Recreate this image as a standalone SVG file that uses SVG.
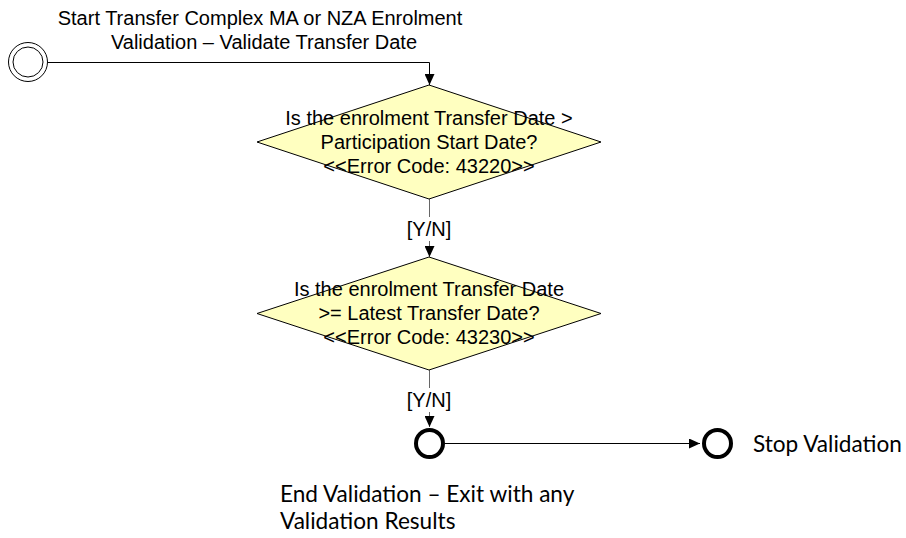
<svg xmlns="http://www.w3.org/2000/svg" width="906" height="538" viewBox="0 0 906 538">
<style>
.t{font-family:"Liberation Sans",Arial,sans-serif;font-size:20px;fill:#000;text-anchor:middle}
.c{font-family:Lato,"Open Sans",sans-serif;font-size:22.6px;fill:#000}
.dia{fill:#ffffc0;stroke:#000;stroke-width:1}
.ln{fill:none;stroke:#000;stroke-width:1}
.lg{fill:none;stroke:#666;stroke-width:1}
.end{fill:#fff;stroke:#000;stroke-width:4}
</style>
<defs>
<marker id="ah" markerUnits="userSpaceOnUse" markerWidth="11" markerHeight="10" refX="11" refY="5" orient="auto">
<path d="M0,0 L11,5 L0,10 z" fill="#000"/>
</marker>
</defs>
<rect width="906" height="538" fill="#fff"/>
<g id="connectors">
<path class="ln" d="M48,62.5 H429.5 V85" marker-end="url(#ah)"/>
<path class="lg" d="M429.5,199 V217"/>
<path class="lg" d="M429.5,241 V257" marker-end="url(#ah)"/>
<text class="t" x="429" y="236">[Y/N]</text>
<path class="lg" d="M429.5,370 V388"/>
<path class="lg" d="M429.5,412 V427" marker-end="url(#ah)"/>
<text class="t" x="429" y="407">[Y/N]</text>
<path class="ln" d="M445,443.5 H700" marker-end="url(#ah)"/>
</g>
<g id="start">
<circle cx="28" cy="62" r="19.5" fill="#fff" stroke="#000" stroke-width="1"/>
<circle cx="28" cy="62" r="15" fill="#fff" stroke="#000" stroke-width="1"/>
<text class="t" x="260" y="25">Start Transfer Complex MA or NZA Enrolment</text>
<text class="t" x="264" y="49">Validation – Validate Transfer Date</text>
</g>
<g id="decision1">
<polygon class="dia" points="429,85 601,142 429,199 257,142"/>
<text class="t" x="429" y="125">Is the enrolment Transfer Date &gt;</text>
<text class="t" x="429" y="149">Participation Start Date?</text>
<text class="t" x="429" y="173">&lt;&lt;Error Code: 43220&gt;&gt;</text>
</g>
<g id="decision2">
<polygon class="dia" points="429,257 601,313.5 429,370 257,313.5"/>
<text class="t" x="429" y="296">Is the enrolment Transfer Date</text>
<text class="t" x="429" y="320">&gt;= Latest Transfer Date?</text>
<text class="t" x="429" y="344">&lt;&lt;Error Code: 43230&gt;&gt;</text>
</g>
<g id="endValidation">
<circle class="end" cx="429.5" cy="443.5" r="13.5"/>
<text class="c" x="280" y="502">End Validation – Exit with any</text>
<text class="c" x="280" y="529">Validation Results</text>
</g>
<g id="stopValidation">
<circle class="end" cx="717.5" cy="443.5" r="13.5"/>
<text class="c" x="753" y="452">Stop Validation</text>
</g>
</svg>
